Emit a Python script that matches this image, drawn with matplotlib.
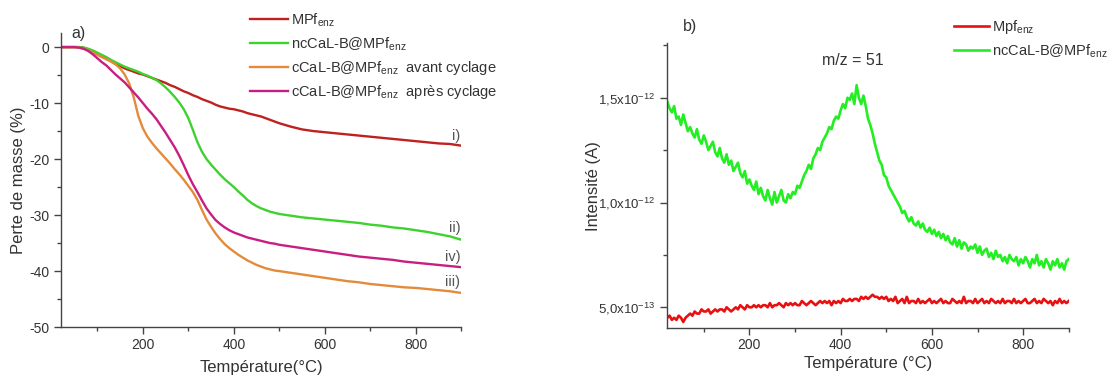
import numpy as np
import matplotlib
matplotlib.use("Agg")
import matplotlib.pyplot as plt
from matplotlib.ticker import MultipleLocator, FixedLocator, FuncFormatter

plt.rcParams['font.family'] = ['Liberation Sans', 'DejaVu Sans']
plt.rcParams['mathtext.fontset'] = 'custom'
plt.rcParams['mathtext.rm'] = 'Liberation Sans'
plt.rcParams['mathtext.it'] = 'Liberation Sans'
plt.rcParams['axes.unicode_minus'] = False
TXT = '#333333'

# ---- a) ATG : perte de masse (%) ----
tga_temp = list(range(20, 501, 10)) + list(range(525, 901, 25))
mpf = [0, 0, 0, 0, 0,
       -0.1, -0.4, -0.8, -1.2, -1.6, -2.0, -2.5, -3.0, -3.4, -3.8,
       -4.1, -4.4, -4.7, -4.9, -5.2, -5.5, -5.8, -6.1, -6.4, -6.8,
       -7.1, -7.5, -7.9, -8.2, -8.6, -8.9, -9.3, -9.6, -9.9, -10.3,
       -10.6, -10.8, -11.0, -11.1, -11.3, -11.5, -11.8, -12.0, -12.2, -12.4,
       -12.7, -13.0, -13.3, -13.6,
       -14.2, -14.7, -15.0, -15.2, -15.4, -15.6, -15.8, -16.0, -16.2, -16.4,
       -16.6, -16.8, -17.0, -17.2, -17.3, -17.6]
nccal = [0, 0, 0, 0, 0,
         -0.1, -0.3, -0.6, -1.0, -1.4, -1.8, -2.3, -2.7, -3.1, -3.5,
         -3.8, -4.1, -4.4, -4.8, -5.1, -5.5, -5.9, -6.5, -7.2, -8.0,
         -8.9, -9.9, -11.1, -12.7, -14.8, -17.0, -18.7, -20.0, -21.0, -21.9,
         -22.8, -23.6, -24.3, -25.0, -25.8, -26.5, -27.3, -27.9, -28.4, -28.8,
         -29.1, -29.4, -29.6, -29.8,
         -30.1, -30.4, -30.6, -30.8, -31.0, -31.2, -31.4, -31.7, -31.9, -32.2,
         -32.4, -32.7, -33.0, -33.4, -33.8, -34.4]
ccal_avant = [0, 0, 0, 0, -0.1,
              -0.3, -0.6, -1.0, -1.4, -1.8, -2.2, -2.6, -3.1, -3.8, -4.9,
              -6.5, -9.0, -12.3, -14.5, -16.0, -17.1, -18.1, -19.0, -19.9, -20.8,
              -21.8, -22.7, -23.7, -24.8, -25.9, -27.3, -29.1, -30.8, -32.1, -33.3,
              -34.3, -35.2, -35.9, -36.5, -37.1, -37.6, -38.1, -38.5, -38.9, -39.2,
              -39.5, -39.7, -39.9, -40.0,
              -40.3, -40.6, -40.9, -41.2, -41.5, -41.8, -42.0, -42.3, -42.5, -42.7,
              -42.9, -43.0, -43.2, -43.4, -43.6, -43.9]
ccal_apres = [0, 0, 0, 0, -0.1,
              -0.3, -0.7, -1.3, -2.0, -2.7, -3.3, -4.1, -4.9, -5.6, -6.3,
              -7.2, -8.1, -9.0, -10.0, -11.0, -11.9, -12.9, -14.1, -15.3, -16.6,
              -17.9, -19.4, -21.1, -22.9, -24.5, -25.9, -27.4, -28.8, -29.9, -30.9,
              -31.6, -32.2, -32.7, -33.1, -33.4, -33.7, -34.0, -34.2, -34.4, -34.6,
              -34.8, -35.0, -35.1, -35.3,
              -35.6, -35.9, -36.2, -36.5, -36.8, -37.1, -37.4, -37.6, -37.8, -38.0,
              -38.3, -38.5, -38.7, -38.9, -39.1, -39.3]
curve_tags = ['i)', 'ii)', 'iv)', 'iii)']
tag_y = [-15.9, -32.3, -37.5, -41.9]

# ---- b) SM m/z = 51 : intensité (x1e-12 A), tous les 5 °C de 20 à 900 °C ----
ms_temp = list(range(20, 901, 5))
ms_green = [
    1.48, 1.45, 1.43, 1.46, 1.40, 1.41, 1.37, 1.42, 1.38, 1.34,
    1.36, 1.33, 1.31, 1.35, 1.30, 1.28, 1.32, 1.29, 1.25, 1.27,
    1.29, 1.24, 1.22, 1.26, 1.21, 1.19, 1.23, 1.18, 1.20, 1.15,
    1.17, 1.19, 1.14, 1.12, 1.15, 1.09, 1.11, 1.08, 1.06, 1.10,
    1.04, 1.07, 1.03, 1.01, 1.06, 1.02, 0.99, 1.05, 1.00, 1.03,
    1.06, 1.01, 1.00, 1.04, 1.02, 1.05, 1.04, 1.08, 1.07, 1.10,
    1.13, 1.15, 1.18, 1.16, 1.21, 1.23, 1.26, 1.25, 1.29, 1.31,
    1.33, 1.36, 1.35, 1.39, 1.41, 1.40, 1.44, 1.47, 1.45, 1.50,
    1.49, 1.52, 1.47, 1.56, 1.50, 1.47, 1.51, 1.46, 1.40, 1.37,
    1.33, 1.28, 1.24, 1.20, 1.18, 1.13, 1.12, 1.08, 1.06, 1.04,
    1.02, 1.00, 0.98, 0.95, 0.96, 0.93, 0.91, 0.93, 0.90, 0.89,
    0.91, 0.88, 0.90, 0.87, 0.86, 0.88, 0.85, 0.87, 0.84, 0.86,
    0.83, 0.85, 0.82, 0.84, 0.81, 0.80, 0.83, 0.79, 0.82, 0.78,
    0.81, 0.80, 0.77, 0.79, 0.78, 0.80, 0.76, 0.79, 0.75, 0.77,
    0.78, 0.74, 0.76, 0.73, 0.77, 0.74, 0.75, 0.72, 0.74, 0.71,
    0.75, 0.73, 0.72, 0.74, 0.70, 0.73, 0.71, 0.74, 0.72, 0.69,
    0.73, 0.71, 0.75, 0.70, 0.72, 0.69, 0.73, 0.71, 0.68, 0.72,
    0.70, 0.73, 0.69, 0.71, 0.68, 0.72, 0.73]
ms_red = [
    0.45, 0.46, 0.44, 0.45, 0.44, 0.46, 0.45, 0.43, 0.45, 0.46,
    0.47, 0.46, 0.48, 0.47, 0.47, 0.49, 0.48, 0.48, 0.49, 0.47,
    0.48, 0.49, 0.48, 0.49, 0.49, 0.48, 0.50, 0.49, 0.48, 0.49,
    0.50, 0.49, 0.51, 0.50, 0.49, 0.51, 0.50, 0.50, 0.51, 0.50,
    0.51, 0.50, 0.51, 0.51, 0.50, 0.52, 0.50, 0.51, 0.51, 0.52,
    0.51, 0.50, 0.52, 0.51, 0.52, 0.51, 0.52, 0.51, 0.51, 0.53,
    0.52, 0.51, 0.52, 0.53, 0.52, 0.51, 0.52, 0.53, 0.52, 0.53,
    0.52, 0.53, 0.51, 0.53, 0.52, 0.53, 0.52, 0.54, 0.53, 0.53,
    0.54, 0.53, 0.54, 0.54, 0.53, 0.55, 0.54, 0.55, 0.54, 0.55,
    0.56, 0.55, 0.55, 0.54, 0.55, 0.54, 0.55, 0.53, 0.54, 0.53,
    0.55, 0.52, 0.53, 0.54, 0.52, 0.55, 0.52, 0.53, 0.53, 0.52,
    0.54, 0.52, 0.53, 0.52, 0.53, 0.54, 0.52, 0.53, 0.52, 0.53,
    0.54, 0.52, 0.53, 0.52, 0.52, 0.54, 0.53, 0.52, 0.53, 0.52,
    0.55, 0.52, 0.53, 0.53, 0.52, 0.54, 0.52, 0.53, 0.54, 0.52,
    0.53, 0.52, 0.54, 0.53, 0.52, 0.53, 0.52, 0.54, 0.52, 0.53,
    0.53, 0.52, 0.54, 0.52, 0.53, 0.52, 0.53, 0.54, 0.52, 0.52,
    0.53, 0.54, 0.52, 0.53, 0.52, 0.54, 0.53, 0.52, 0.53, 0.51,
    0.53, 0.52, 0.54, 0.52, 0.53, 0.52, 0.53]
ms_yticks = [5e-13, 1.0e-12, 1.5e-12]


def style_axes(ax):
    for s in ['top', 'right']:
        ax.spines[s].set_visible(False)
    for s in ['left', 'bottom']:
        ax.spines[s].set_color('#444444')
        ax.spines[s].set_linewidth(1.0)
    ax.tick_params(which='major', direction='out', length=5, width=1,
                   colors='#444444', labelcolor=TXT, labelsize=10)
    ax.tick_params(which='minor', direction='out', length=3, width=1,
                   colors='#444444')
    ax.tick_params(axis='x', which='major', pad=3)


fig = plt.figure(figsize=(11.17, 3.76), dpi=100)

# ---------- a) ----------
ax1 = fig.add_axes([0.0546, 0.130, 0.3584, 0.782])
ax1.plot(tga_temp, mpf, color='#c0201e', lw=1.7, label='MPf$_{enz}$')
ax1.plot(tga_temp, nccal, color='#3ed22e', lw=1.7, label='ncCaL-B@MPf$_{enz}$')
ax1.plot(tga_temp, ccal_avant, color='#e38b3a', lw=1.7,
         label='cCaL-B@MPf$_{enz}$  avant cyclage')
ax1.plot(tga_temp, ccal_apres, color='#c81e82', lw=1.7,
         label='cCaL-B@MPf$_{enz}$  après cyclage')
ax1.set_xlim(20, 900)
ax1.set_ylim(-50, 2.5)
ax1.xaxis.set_major_locator(MultipleLocator(200))
ax1.xaxis.set_minor_locator(MultipleLocator(100))
ax1.yaxis.set_major_locator(MultipleLocator(10))
ax1.yaxis.set_minor_locator(MultipleLocator(5))
style_axes(ax1)
ax1.set_xlabel('Température(°C)', fontsize=12, color=TXT)
ax1.set_ylabel('Perte de masse (%)', fontsize=12, color=TXT)
ax1.xaxis.set_label_coords(0.5, -0.139)
ax1.xaxis.label.set_va('center')
ax1.yaxis.set_label_coords(-0.107, 0.5)
ax1.yaxis.label.set_va('center')
ax1.text(0.027, 1.0, 'a)', transform=ax1.transAxes, fontsize=11.5, color=TXT,
         va='center')
for lab, yv in zip(curve_tags, tag_y):
    ax1.text(898, yv, lab, fontsize=10.5, color='#555555', ha='right',
             va='center')
ax1.legend(loc='upper left', bbox_to_anchor=(0.458, 1.093), frameon=False,
           fontsize=10.5, handlelength=2.6, handletextpad=0.2,
           labelspacing=0.42, borderaxespad=0, labelcolor=TXT)

# ---------- b) ----------
ax2 = fig.add_axes([0.5974, 0.127, 0.3594, 0.758])
ax2.plot(ms_temp, np.array(ms_red) * 1e-12, color='#e81010', lw=1.9,
         label='Mpf$_{enz}$')
ax2.plot(ms_temp, np.array(ms_green) * 1e-12, color='#22ee22', lw=1.9,
         label='ncCaL-B@MPf$_{enz}$')
ax2.set_xlim(20, 900)
ax2.set_ylim(4.0e-13, 1.76e-12)
ax2.xaxis.set_major_locator(MultipleLocator(200))
ax2.xaxis.set_minor_locator(MultipleLocator(100))
ax2.yaxis.set_major_locator(FixedLocator(ms_yticks))
ax2.yaxis.set_minor_locator(FixedLocator([7.5e-13, 1.25e-12, 1.75e-12]))


def sci_fmt(v, pos):
    exp = int(np.floor(np.log10(v) + 1e-9))
    mant = v / 10 ** exp
    return ('%.1f' % mant).replace('.', ',') + 'x10$^{%d}$' % exp


ax2.yaxis.set_major_formatter(FuncFormatter(sci_fmt))
style_axes(ax2)
ax2.tick_params(axis='y', which='major', labelsize=9.5)
ax2.tick_params(axis='x', which='major', pad=2)
ax2.set_xlabel('Température (°C)', fontsize=12, color=TXT)
ax2.set_ylabel('Intensité (A)', fontsize=12, color=TXT)
ax2.xaxis.set_label_coords(0.5, -0.125)
ax2.xaxis.label.set_va('center')
ax2.yaxis.set_label_coords(-0.185, 0.5)
ax2.yaxis.label.set_va('center')
ax2.text(0.039, 1.058, 'b)', transform=ax2.transAxes, fontsize=11.5,
         color=TXT, va='center')
ax2.text(0.461, 0.938, 'm/z = 51', transform=ax2.transAxes, fontsize=11.5,
         color=TXT, ha='center', va='center')
ax2.legend(loc='upper left', bbox_to_anchor=(0.700, 1.108), frameon=False,
           fontsize=10.5, handlelength=2.4, handletextpad=0.2,
           labelspacing=0.42, borderaxespad=0, labelcolor=TXT)

fig.savefig('out.png', dpi=100)
